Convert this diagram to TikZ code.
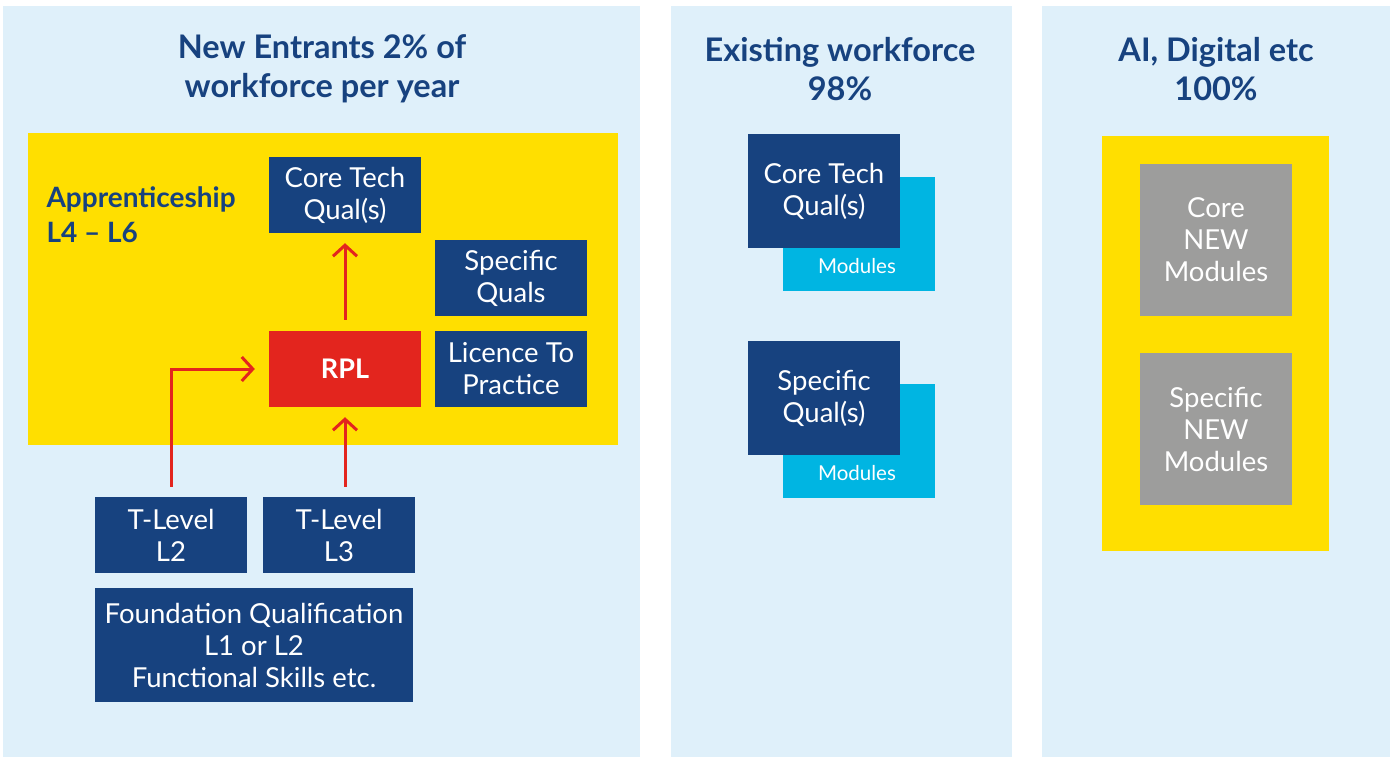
\documentclass[tikz,border=0pt]{standalone}
\usepackage{fontspec}
\setmainfont{Lato}
\usetikzlibrary{arrows.meta}
\definecolor{panelbg}{HTML}{DFF0FA}
\definecolor{navy}{HTML}{17427F}
\definecolor{ayellow}{HTML}{FFDF00}
\definecolor{ared}{HTML}{E3251E}
\definecolor{acyan}{HTML}{00B5E2}
\definecolor{agrey}{HTML}{9D9D9C}
\tikzset{
  panel/.style={fill=panelbg, draw=none},
  navybox/.style={fill=navy, text=white, minimum width=152pt, minimum height=76pt, inner sep=0pt, align=center, font=\fontsize{27.5}{32}\selectfont},
  redbox/.style={navybox, fill=ared, font=\bfseries\fontsize{27}{30}\selectfont},
  cyanbox/.style={fill=acyan, minimum width=152pt, minimum height=114pt, inner sep=0pt},
  greybox/.style={fill=agrey, text=white, minimum width=152pt, minimum height=152pt, inner sep=0pt, align=center, font=\fontsize{27.5}{32}\selectfont},
  ybox/.style={fill=ayellow, inner sep=0pt},
  ttl/.style={text=navy, align=center, font=\bfseries\fontsize{32.5}{39}\selectfont},
  modtxt/.style={text=white, font=\fontsize{20.5}{22}\selectfont},
  redarrow/.style={draw=ared, line width=3pt, -{Straight Barb[length=11pt,width=24pt,line width=3pt]}}
}
\begin{document}
\begin{tikzpicture}[x=1pt,y=-1pt]
\useasboundingbox (0,0) rectangle (1395,757);
% panels
\fill[panel] (3,6) rectangle (640,757);
\fill[panel] (671,6) rectangle (1012,757);
\fill[panel] (1042,6) rectangle (1390,757);
% titles
\node[ttl] (t1) at (322,69) {New Entrants 2\% of\\workforce per year};
\node[ttl] (t2) at (840,69) {Existing workforce\\98\%};
\node[ttl] (t3) at (1216,69) {AI, Digital etc\\100\%};
% panel 1
\node[ybox, minimum width=590pt, minimum height=312pt] (yb1) at (323,289) {};
\node[anchor=west, text=navy, align=left, font=\bfseries\fontsize{28}{35}\selectfont] (app) at (43,215) {Apprenticeship\\L4 -- L6};
\node[navybox] (ct) at (345,195) {Core Tech\\Qual(s)};
\node[navybox] (sq) at (511,278) {Specific\\Quals};
\node[redbox] (rpl) at (345,369) {RPL};
\node[navybox] (lp) at (511,369) {Licence To\\Practice};
\node[navybox] (tl2) at (171,535) {T-Level\\L2};
\node[navybox] (tl3) at (339,535) {T-Level\\L3};
\node[navybox, minimum width=318pt, minimum height=114pt] (fq) at (254,645) {Foundation Qualification\\L1 or L2\\Functional Skills etc.};
\draw[redarrow, shorten <=11pt, shorten >=10pt] (rpl.north) -- (ct.south);
\draw[redarrow, shorten <=10pt, shorten >=10pt] (rpl.south |- tl3.north) -- (rpl.south);
\draw[redarrow, shorten <=10pt, shorten >=14pt] (tl2.north) |- (rpl.west);
% panel 2
\node[cyanbox] (m1) at (859,234) {};
\node[navybox, minimum height=114pt] (cq2) at (824,191) {Core Tech\\Qual(s)};
\node[modtxt] (m1t) at (857,266) {Modules};
\node[cyanbox] (m2) at (859,441) {};
\node[navybox, minimum height=114pt] (sq2) at (824,398) {Specific\\Qual(s)};
\node[modtxt] (m2t) at (857,473) {Modules};
% panel 3
\node[ybox, minimum width=227pt, minimum height=415pt] (yb3) at (1215.5,343.5) {};
\node[greybox] (g1) at (1216,240) {Core\\NEW\\Modules};
\node[greybox] (g2) at (1216,429) {Specific\\NEW\\Modules};
\end{tikzpicture}
\end{document}
